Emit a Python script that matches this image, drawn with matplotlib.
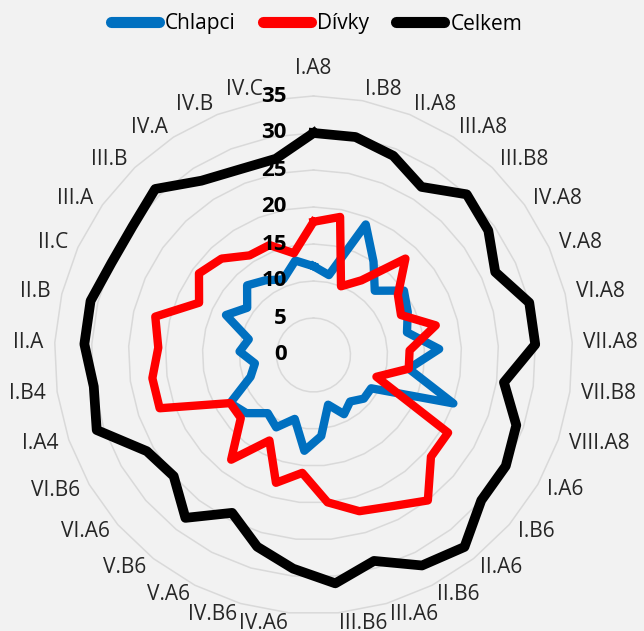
import numpy as np
import matplotlib
matplotlib.use("Agg")
import matplotlib.pyplot as plt
from matplotlib.lines import Line2D
import matplotlib.transforms as mtransforms

plt.rcParams['font.family'] = ['Open Sans', 'DejaVu Sans']

categories = ["I.A8", "I.B8", "II.A8", "III.A8", "III.B8", "IV.A8", "V.A8", "VI.A8",
              "VII.A8", "VII.B8", "VIII.A8", "I.A6", "I.B6", "II.A6", "II.B6", "III.A6",
              "III.B6", "IV.A6", "IV.B6", "V.A6", "V.B6", "VI.A6", "VI.B6", "I.A4",
              "I.B4", "II.A", "II.B", "II.C", "III.A", "III.B", "IV.A", "IV.B", "IV.C"]

chlapci = [12, 11, 19, 15, 12, 15, 14, 13, 17, 13, 20, 9, 9, 8, 9, 7,
           11, 13, 9, 11, 10, 12, 13, 9, 8, 10, 9, 13, 11, 13, 12, 11, 13]
divky = [18, 19, 10, 12, 18, 14, 13, 17, 13, 13, 9, 21, 21, 25, 23, 22,
         20, 16, 18, 13, 18, 13, 13, 22, 22, 21, 22, 17, 19, 18, 16, 16, 14]
celkem = [30, 30, 29, 27, 30, 29, 27, 30, 30, 26, 29, 30, 30, 33, 32, 29,
          31, 29, 27, 24, 28, 25, 26, 31, 30, 31, 31, 30, 30, 31, 28, 27, 27]

series_names = ["Chlapci", "Dívky", "Celkem"]
series_colors = ["#0070C0", "#FF0000", "#000000"]
tick_values = [0, 5, 10, 15, 20, 25, 30, 35]
tick_labels = ["0", "5", "10", "15", "20", "25", "30", "35"]

W, H = 644, 631
fig = plt.figure(figsize=(W / 100, H / 100), dpi=100)
fig.patch.set_facecolor("#F2F2F2")

cx, cy, R = 313.5, 355.0, 259.0
ax = fig.add_axes([(cx - R) / W, (H - cy - R) / H, 2 * R / W, 2 * R / H], projection="polar")
ax.set_facecolor("none")
ax.set_theta_zero_location("N")
ax.set_theta_direction(-1)
ax.set_ylim(0, 35)
ax.grid(False)
ax.spines["polar"].set_visible(False)
ax.set_xticks([])
ax.set_yticks([])

n = len(categories)
theta = np.linspace(0, 2 * np.pi, n, endpoint=False)
theta_c = np.append(theta, theta[0])

# polygon gridlines
for v in tick_values[1:]:
    ax.plot(theta_c, [v] * (n + 1), color="#D9D9D9", lw=1.1, zorder=1, clip_on=False)

for vals, col, lw in zip([chlapci, divky, celkem], series_colors, [6.0, 6.0, 7.0]):
    v = np.append(vals, vals[0])
    ax.plot(theta_c, v, color=col, lw=lw, solid_joinstyle="round", zorder=3, clip_on=False)

# value axis labels
off = mtransforms.offset_copy(ax.transData, fig=fig, x=-26.5, y=0, units="dots")
for v, lab in zip(tick_values, tick_labels):
    ax.text(0, v, lab, transform=off, ha="right", va="center", fontsize=16,
            fontweight="bold", color="#000000", zorder=5)

# category labels
for t, lab in zip(theta, categories):
    s = np.cos(t)  # vertical component (up)
    c = np.sin(t)  # horizontal component (right)
    if abs(c) < 0.01:
        ha = "center"
    elif c > 0:
        ha = "left"
    else:
        ha = "right"
    r_lab = 270 / R * 35
    if s > 0.999:
        r_lab = 287 / R * 35
    ax.text(t, r_lab, lab, ha=ha, va="center", fontsize=15, color="#262626", zorder=5)

handles = [Line2D([0], [0], color=c, lw=8, solid_capstyle="round") for c in series_colors]
fig.legend(handles, series_names, loc="center", bbox_to_anchor=(316.5 / W, 1 - 24 / H),
           ncol=3, frameon=False, fontsize=15, handlelength=2.3, handletextpad=0.3,
           columnspacing=1.3, borderaxespad=0)

fig.savefig("out.png", dpi=100, facecolor=fig.get_facecolor())
